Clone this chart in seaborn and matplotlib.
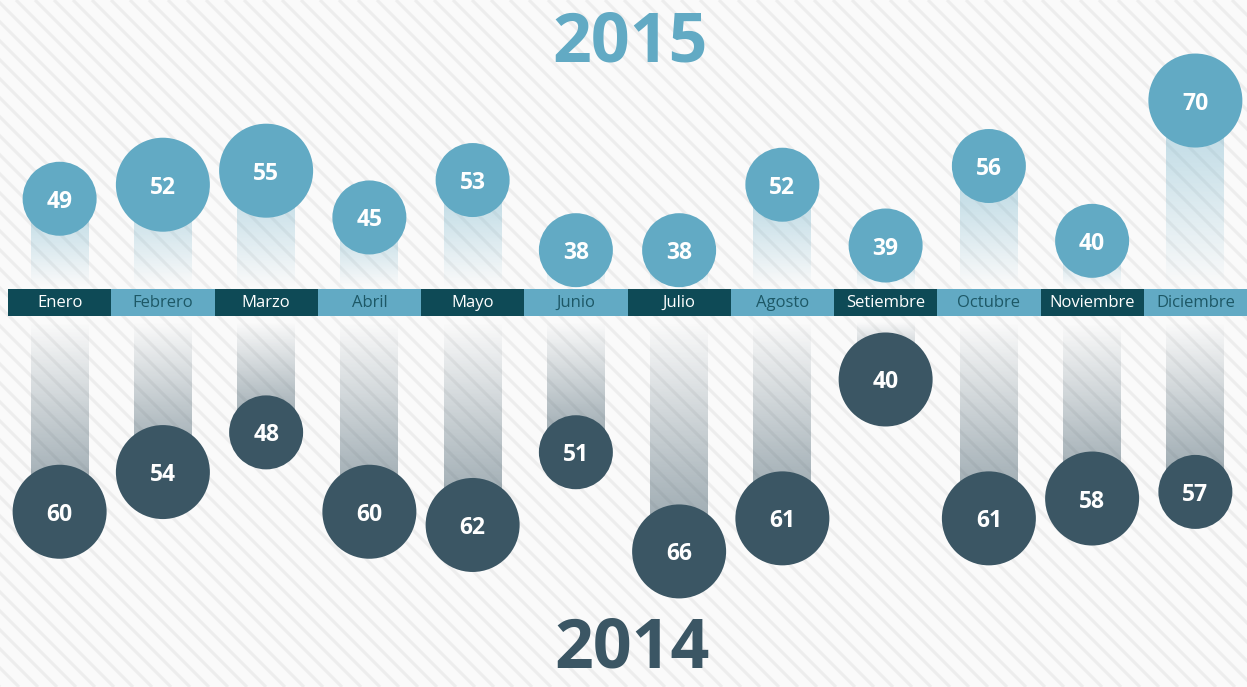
import numpy as np
import pandas as pd
import matplotlib
matplotlib.use("Agg")
import matplotlib.pyplot as plt
import matplotlib.colors as mcolors
import seaborn as sns

months = ["Enero", "Febrero", "Marzo", "Abril", "Mayo", "Junio", "Julio",
          "Agosto", "Setiembre", "Octubre", "Noviembre", "Diciembre"]
values_2015 = [49, 52, 55, 45, 53, 38, 38, 52, 39, 56, 40, 70]
values_2014 = [60, 54, 48, 60, 62, 51, 66, 61, 40, 61, 58, 57]

# styling: the original uses two bubble sizes (radius in px)
radius_2015 = [37, 47, 47, 37, 37, 37, 37, 37, 37, 37, 37, 47]
radius_2014 = [47, 47, 37, 47, 47, 37, 47, 47, 47, 47, 47, 37]

LIGHT = "#62aac4"
DARK = "#3b5664"
BAND_DARK = "#0e4a56"
TXT_DARK = "#1d5866"

W, H, DPI = 1247, 687, 100

sns.set_theme(style="white")
plt.rcParams["font.family"] = ["Open Sans", "DejaVu Sans"]

df15 = pd.DataFrame({"month": months, "idx": range(12), "value": values_2015, "r": radius_2015})
df14 = pd.DataFrame({"month": months, "idx": range(12), "value": values_2014, "r": radius_2014})

fig = plt.figure(figsize=(W / DPI, H / DPI), dpi=DPI)
fig.patch.set_facecolor("#fafafa")

# striped background
bg = fig.add_axes([0, 0, 1, 1], zorder=-10)
bg.set_xlim(0, W)
bg.set_ylim(H, 0)
bg.axis("off")
for x0 in range(-H, W + 20, 19):
    bg.plot([x0, x0 + H], [0, H], color="#ededed", lw=2.2, solid_capstyle="butt")

left = 8 / W
band_top, band_bot = 289, 316

# size in points^2 for a given pixel radius
def psize(r):
    return (2 * r * 72 / DPI) ** 2

size_map = {37: psize(37), 47: psize(47)}


def gradient_stem(ax, x, y0, y1, color, a0, a1, width=0.56):
    rgb = mcolors.to_rgb(color)
    n = 256
    img = np.zeros((n, 1, 4))
    img[:, 0, :3] = rgb
    img[:, 0, 3] = np.linspace(a0, a1, n)
    ax.imshow(img, extent=(x - width / 2, x + width / 2, y0, y1),
              origin="lower", aspect="auto", interpolation="bilinear", zorder=1)


# ---- 2015 (top) ----
ax_top = fig.add_axes([left, 1 - band_top / H, 1 - left, band_top / H])
top_lim = (29.7, 91.5)
for i, v in zip(df15["idx"], df15["value"]):
    gradient_stem(ax_top, i, top_lim[0] + 0.5, v, LIGHT, 0.0, 0.45)
sns.scatterplot(data=df15, x="idx", y="value", size="r", sizes=size_map,
                color=LIGHT, linewidth=0, legend=False, ax=ax_top, zorder=3, clip_on=False)
for i, v in zip(df15["idx"], df15["value"]):
    ax_top.text(i, v, str(v), ha="center", va="center_baseline", color="white",
                fontsize=16.5, fontweight="bold", zorder=4)
ax_top.set_xlim(-0.5, 11.5)
ax_top.set_ylim(*top_lim)
ax_top.axis("off")

# ---- 2014 (bottom) ----
ax_bot = fig.add_axes([left, 0, 1 - left, 1 - band_bot / H])
bot_lim = (86.5, 30.4)
for i, v in zip(df14["idx"], df14["value"]):
    gradient_stem(ax_bot, i, v, bot_lim[1] + 1.0, DARK, 0.55, 0.0)
sns.scatterplot(data=df14, x="idx", y="value", size="r", sizes=size_map,
                color=DARK, linewidth=0, legend=False, ax=ax_bot, zorder=3, clip_on=False)
for i, v in zip(df14["idx"], df14["value"]):
    ax_bot.text(i, v, str(v), ha="center", va="center_baseline", color="white",
                fontsize=16.5, fontweight="bold", zorder=4)
ax_bot.set_xlim(-0.5, 11.5)
ax_bot.set_ylim(*bot_lim)
ax_bot.axis("off")

# ---- month band ----
ax_band = fig.add_axes([left, 1 - band_bot / H, 1 - left, (band_bot - band_top) / H], zorder=5)
band_colors = [BAND_DARK if i % 2 == 0 else LIGHT for i in range(12)]
sns.barplot(x=list(range(12)), y=[1] * 12, hue=list(range(12)), palette=band_colors,
            width=1.0, legend=False, ax=ax_band, linewidth=0, saturation=1)
for i, m in enumerate(months):
    ax_band.text(i, 0.47, m, ha="center", va="center", fontsize=12,
                 color="white" if i % 2 == 0 else TXT_DARK)
ax_band.set_xlim(-0.5, 11.5)
ax_band.set_ylim(0, 1)
ax_band.axis("off")

fig.text(630 / W, 1 - 62 / H, "2015", ha="center", va="baseline",
         fontsize=49, fontweight="bold", color=LIGHT)
fig.text(632 / W, 1 - 667 / H, "2014", ha="center", va="baseline",
         fontsize=49, fontweight="bold", color=DARK)

fig.savefig("out.png", dpi=DPI, facecolor=fig.get_facecolor())
